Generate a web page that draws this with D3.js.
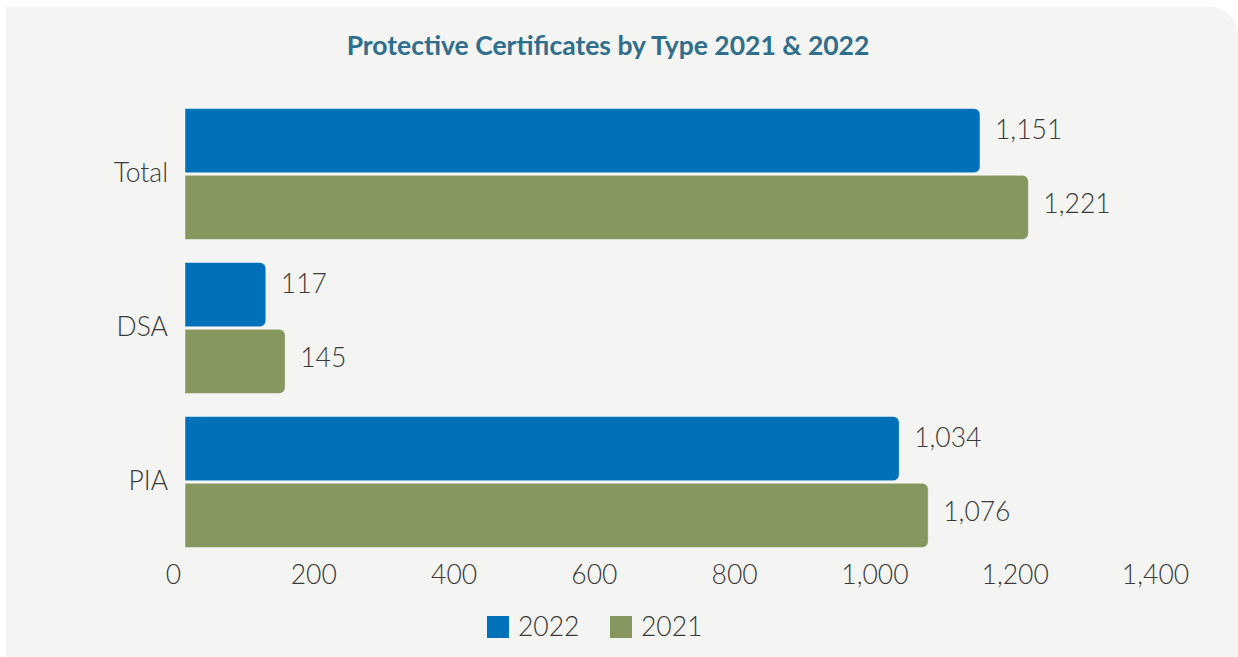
<!DOCTYPE html>
<html>
<head>
<meta charset="utf-8">
<script src="https://cdn.jsdelivr.net/npm/d3@7"></script>
<style>
  html, body { margin: 0; padding: 0; background: #fff; }
  svg { display: block; font-family: Lato, "Open Sans", sans-serif; }
</style>
</head>
<body>
<div class="chart"></div>
<script>
// PROTECTIVE CERTIFICATES - grouped horizontal bars
const categories = ['Total', 'DSA', 'PIA'];
const seriesNames = ['2022', '2021'];
const values2022 = [1151, 117, 1034];
const values2021 = [1221, 145, 1076];
const tickValues = [0, 200, 400, 600, 800, 1000, 1200, 1400];

const colors = { '2022': '#0070b8', '2021': '#86965f' };

const W = 1238, H = 657;
const fontSize = '26.5px';

const svg = d3.select('.chart')
	.append('svg')
		.attr('width', W)
		.attr('height', H);

// panel background, only top right corner rounded
const px = 6, py = 7, pr = 28;
svg.append('path')
	.attr('d', `M${px},${py} H${W - pr} A${pr},${pr} 0 0 1 ${W},${py + pr} V${H} H${px} Z`)
	.attr('fill', '#f4f4f2');

// title
svg.append('text')
	.attr('x', 608)
	.attr('y', 55)
	.attr('text-anchor', 'middle')
	.style('font-size', '26.5px')
	.style('font-weight', 700)
	.style('fill', '#2f6e8c')
	.text('Protective Certificates by Type 2021 & 2022');

// scales
const x = d3.scaleLinear().domain([0, 1400]).range([185, 1152]);
// tick labels sit a bit left of the bar origin in the original
const xAxisScale = d3.scaleLinear().domain([0, 1400]).range([173, 1155]);

const y = d3.scaleBand()
	.domain(categories)
	.range([97, 559])
	.paddingInner(0.1494)
	.paddingOuter(0.0747);

const ySub = d3.scaleBand()
	.domain(seriesNames)
	.range([0, y.bandwidth()])
	.paddingInner(0.038);

const data = categories.map((c, i) => ({
	cat: c,
	vals: [
		{ s: '2022', v: values2022[i] },
		{ s: '2021', v: values2021[i] }
	]
}));

// bar with rounded right end
function barPath(x0, x1, y0, h, r) {
	r = Math.min(r, (x1 - x0) / 2, h / 2);
	return `M${x0},${y0} H${x1 - r} A${r},${r} 0 0 1 ${x1},${y0 + r}` +
		` V${y0 + h - r} A${r},${r} 0 0 1 ${x1 - r},${y0 + h} H${x0} Z`;
}

const groups = svg.selectAll('.grp')
	.data(data)
	.enter()
	.append('g')
		.attr('class', 'grp')
		.attr('transform', d => `translate(0, ${y(d.cat)})`);

groups.selectAll('.bar')
	.data(d => d.vals)
	.enter()
	.append('path')
		.attr('class', 'bar')
		.attr('d', d => barPath(x(0), x(d.v), ySub(d.s), ySub.bandwidth(), 6))
		.style('fill', d => colors[d.s])
		.style('stroke', 'rgba(255,255,255,0.45)')
		.style('stroke-width', 1);

// value labels
groups.selectAll('.val')
	.data(d => d.vals)
	.enter()
	.append('text')
		.attr('class', 'val')
		.attr('x', d => x(d.v) + 15)
		.attr('y', d => ySub(d.s) + ySub.bandwidth() / 2 + (d.s === '2022' ? -11 : -4))
		.attr('dy', '0.35em')
		.style('font-size', fontSize)
		.style('font-weight', 300)
		.style('fill', '#3a3a3a')
		.text(d => d3.format(',')(d.v));

// category axis (labels only)
const yAxis = svg.append('g')
	.attr('transform', 'translate(177, 0)')
	.call(d3.axisLeft(y).tickSize(0).tickPadding(9));
yAxis.select('.domain').remove();
yAxis.selectAll('text')
	.style('font-family', 'Lato, sans-serif')
	.style('font-size', fontSize)
	.style('font-weight', 300)
	.style('fill', '#3a3a3a');

// value axis (labels only)
const xAxis = svg.append('g')
	.attr('transform', 'translate(0, 558)')
	.call(d3.axisBottom(xAxisScale).tickValues(tickValues).tickSize(0).tickPadding(7).tickFormat(d3.format(',')));
xAxis.select('.domain').remove();
xAxis.selectAll('text')
	.style('font-family', 'Lato, sans-serif')
	.style('font-size', fontSize)
	.style('font-weight', 300)
	.style('fill', '#3a3a3a');

// legend
const legend = svg.append('g')
	.attr('transform', 'translate(487, 616)');

const item = legend.selectAll('.item')
	.data(seriesNames)
	.enter()
	.append('g')
		.attr('class', 'item')
		.attr('transform', (d, i) => `translate(${i * 123}, 0)`);

item.append('rect')
	.attr('width', 22)
	.attr('height', 22)
	.style('fill', d => colors[d]);

item.append('text')
	.attr('x', 31)
	.attr('y', 11)
	.attr('dy', '0.35em')
	.style('font-size', fontSize)
	.style('font-weight', 300)
	.style('fill', '#3a3a3a')
	.text(d => d);
</script>
</body>
</html>
